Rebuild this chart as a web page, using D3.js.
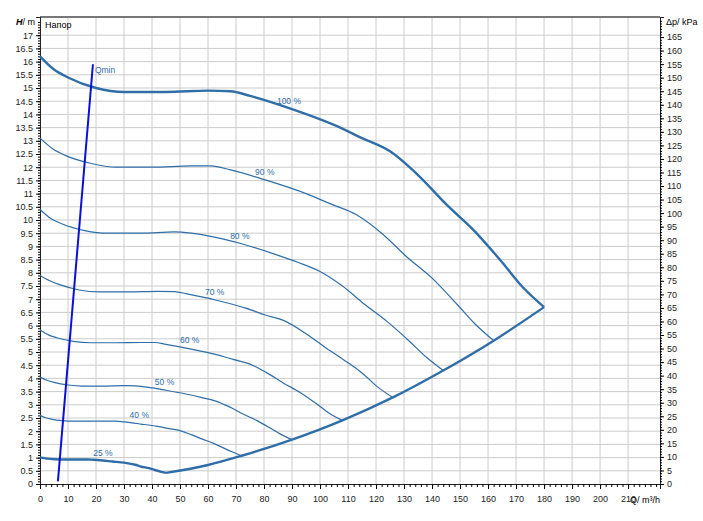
<!DOCTYPE html>
<html><head><meta charset="utf-8">
<script src="https://cdn.jsdelivr.net/npm/d3@7"></script>
<style>body{margin:0;background:#fff}text{font-family:"Liberation Sans",Arial,sans-serif}</style>
</head><body><div id="chart"></div>
<script>
// pump curves, Q m3/h vs H m
const curve100 = [[0,16.2],[5,15.7],[10,15.4],[20,15.0],[30,14.85],[45,14.85],[60,14.9],[68,14.88],[75,14.7],[90,14.2],[105,13.6],[115,13.1],[125,12.6],[135,11.7],[145,10.6],[155,9.6],[165,8.4],[172,7.5],[180,6.7]]
const curve90 = [[0,13.1],[4.5,12.7],[9,12.45],[18,12.15],[27,12.0],[40,12.0],[54,12.05],[61,12.05],[68,11.9],[81,11.5],[95,11.0],[104,10.6],[113,10.2],[122,9.5],[131,8.6],[140,7.8],[149,6.8],[155,6.1],[162,5.43]]
const curve80 = [[0,10.4],[4,10.05],[8,9.85],[16,9.6],[24,9.5],[36,9.5],[48,9.55],[54,9.5],[60,9.4],[72,9.1],[84,8.7],[92,8.4],[100,8.05],[108,7.5],[116,6.8],[124,6.15],[132,5.4],[138,4.8],[144,4.3]]
const curve70 = [[0,7.9],[3.5,7.7],[7,7.55],[14,7.35],[21,7.28],[31.5,7.28],[42,7.3],[48,7.29],[52.5,7.2],[63,6.96],[73.5,6.66],[80.5,6.4],[87.5,6.17],[94.5,5.73],[101.5,5.2],[108.5,4.7],[115.5,4.16],[120.5,3.68],[126,3.28]]
const curve60 = [[0,5.83],[3,5.65],[6,5.54],[12,5.4],[18,5.35],[27,5.35],[36,5.36],[41,5.36],[45,5.29],[54,5.11],[63,4.9],[69,4.72],[75,4.54],[81,4.21],[87,3.82],[93,3.46],[99,3.02],[103,2.7],[108,2.41]]
const curve50 = [[0,4.05],[2.5,3.93],[5,3.85],[10,3.75],[15,3.71],[22.5,3.71],[30,3.73],[34,3.72],[37.5,3.68],[45,3.55],[52.5,3.4],[57.5,3.28],[62.5,3.15],[67.5,2.93],[72.5,2.65],[77.5,2.4],[82.5,2.1],[86,1.88],[90,1.68]]
const curve40 = [[0,2.6],[2,2.51],[4,2.46],[8,2.4],[12,2.38],[18,2.38],[24,2.38],[27,2.38],[30,2.35],[36,2.27],[42,2.18],[46,2.1],[50,2.02],[54,1.87],[58,1.7],[62,1.54],[66,1.34],[69,1.2],[72,1.07]]
const curve25 = [[0,1.01],[2.5,0.96],[5,0.94],[11,0.93],[17,0.93],[19,0.92],[22.5,0.89],[26,0.85],[29,0.82],[31,0.79],[34,0.73],[36,0.66],[39,0.6],[41,0.53],[43,0.47],[45,0.42]]
const maxLine = [[45,0.42],[60,0.72],[72,1.07],[90,1.68],[108,2.41],[126,3.28],[144,4.3],[162,5.43],[180,6.7]]
const qmin = [[6.4,0.1],[18.9,15.9]]

const curveLabels = ["100 %","90 %","80 %","70 %","60 %","50 %","40 %","25 %"]
const labelPos = [[84.6,14.4],[76.8,11.7],[67.9,9.28],[58.9,7.16],[50,5.34],[41,3.75],[32,2.5],[19,1.06]]

const xTicks = d3.range(0, 211, 10)
const yTicks = d3.range(0, 17.01, 0.5)
const kpaTicks = d3.range(0, 166, 5)

const W = 703, H = 521
const mLeft = 40, mRight = 660, mTop = 17, mBottom = 484
const blue = "#2f6ea8"

const svg = d3.select("#chart").append("svg").attr("width", W).attr("height", H)

const x = d3.scaleLinear().domain([0, 221.4]).range([mLeft, mRight])
const y = d3.scaleLinear().domain([0, 17.69]).range([mBottom, mTop])
const yk = d3.scaleLinear().domain([0, 172.4]).range([mBottom, mTop])

// grid
svg.append("g").selectAll("line").data(xTicks.slice(1)).join("line")
    .attr("x1", d => x(d)).attr("x2", d => x(d)).attr("y1", mTop).attr("y2", mBottom)
    .attr("stroke", "#cccccc")
svg.append("g").selectAll("line").data(yTicks.slice(1)).join("line")
    .attr("x1", mLeft).attr("x2", mRight).attr("y1", d => y(d)).attr("y2", d => y(d))
    .attr("stroke", "#cccccc")
svg.append("line").attr("x1", mLeft).attr("x2", mRight).attr("y1", mTop).attr("y2", mTop)
    .attr("stroke", "#777").attr("stroke-width", 2)

// axes
const fmt = d => String(d)
const gl = svg.append("g").attr("transform", `translate(${mLeft},0)`)
    .call(d3.axisLeft(y).tickValues(yTicks).tickFormat(fmt).tickSize(4))
gl.append("g").call(d3.axisLeft(y).tickValues(d3.range(0, 17.6, 0.1)).tickFormat("").tickSize(2))
const gb = svg.append("g").attr("transform", `translate(0,${mBottom})`)
    .call(d3.axisBottom(x).tickValues(xTicks).tickFormat(fmt).tickSize(5))
gb.append("g").call(d3.axisBottom(x).tickValues(d3.range(0, 221, 2)).tickFormat("").tickSize(3))
const gr = svg.append("g").attr("transform", `translate(${mRight},0)`)
    .call(d3.axisRight(yk).tickValues(kpaTicks).tickFormat(fmt).tickSize(4))
gr.append("g").call(d3.axisRight(yk).tickValues(d3.range(0, 172, 1)).tickFormat("").tickSize(2))
svg.selectAll(".domain").attr("stroke", "#222")
svg.selectAll(".tick text").attr("font-size", 9).attr("fill", "#222")
    .attr("font-family", "Liberation Sans, Arial, sans-serif")
gb.selectAll(".tick text").attr("dy", "1.1em")

svg.append("text").attr("x", 35).attr("y", 25).attr("text-anchor", "end").attr("font-size", 9)
    .html('<tspan font-style="italic" font-weight="bold">H</tspan>/ m')
svg.append("text").attr("x", 45).attr("y", 28).attr("font-size", 9).text("Напор")
svg.append("text").attr("x", 666).attr("y", 25).attr("font-size", 9).text("Δp/ kPa")
svg.append("text").attr("x", 645).attr("y", 503).attr("text-anchor", "middle").attr("font-size", 9).text("Q/ m³/h")

// curves
const line = d3.line().x(d => x(d[0])).y(d => y(d[1])).curve(d3.curveMonotoneX)
const thin = [curve90, curve80, curve70, curve60, curve50, curve40]
svg.append("g").selectAll("path").data(thin).join("path")
    .attr("d", line).attr("fill", "none").attr("stroke", blue).attr("stroke-width", 1.2)
svg.append("g").selectAll("path").data([curve100, curve25, maxLine]).join("path")
    .attr("d", line).attr("fill", "none").attr("stroke", blue).attr("stroke-width", 2.4)

svg.append("path").attr("d", d3.line().x(d => x(d[0])).y(d => y(d[1]))(qmin))
    .attr("stroke", "#0a10d8").attr("stroke-width", 2).attr("fill", "none")
svg.append("text").attr("x", x(19.6)).attr("y", y(15.57)).attr("font-size", 8.5)
    .attr("fill", blue).text("Qmin")

svg.append("g").selectAll("text").data(curveLabels).join("text")
    .attr("x", (d, i) => x(labelPos[i][0])).attr("y", (d, i) => y(labelPos[i][1]))
    .attr("font-size", 8.5).attr("fill", blue).text(d => d)
</script></body></html>
